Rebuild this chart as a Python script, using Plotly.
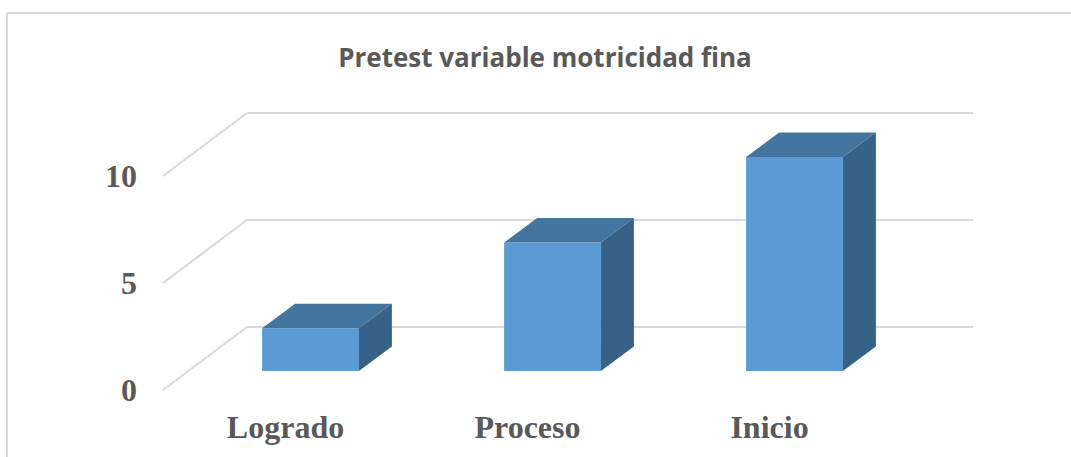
import plotly.graph_objects as go

categories = ["Logrado", "Proceso", "Inicio"]
values = [2, 6, 10]
axis_ticks = [0, 5, 10]
title_text = "Pretest variable motricidad fina"

W, H = 1071, 457
BOTTOM = 52
UX, UY = 242.0, 21.4      # pixels per data unit
X0, Y0 = 310.5, 371.0     # pixel of category 0 / value 0 on front plane
BAR_W = 0.4
DX, DY = 33 / UX, 24.5 / UY          # bar depth
FRONT_Y, BACK_Y = -19 / UY, 44 / UY  # gridline offsets from bar plane
GX0, GX1, GX2 = (163 - X0) / UX, (247 - X0) / UX, (973 - X0) / UX
LABEL_SHIFT = -25 / UX
GRID = "#D9D9D9"
TEXT = "#595959"
FRONT, TOP, SIDE = "#5B9BD5", "#44759F", "#376287"

positions = list(range(len(categories)))
fig = go.Figure()

fig.add_trace(go.Bar(x=positions, y=values, width=BAR_W,
                     marker=dict(color=FRONT, line=dict(width=0)), hoverinfo="skip"))

for p, v in zip(positions, values):
    l, r = p - BAR_W / 2, p + BAR_W / 2
    fig.add_trace(go.Scatter(x=[l, l + DX, r + DX, r, l], y=[v, v + DY, v + DY, v, v],
                             mode="lines", fill="toself", fillcolor=TOP,
                             line=dict(width=0), hoverinfo="skip"))
    fig.add_trace(go.Scatter(x=[r, r + DX, r + DX, r, r], y=[0, DY, v + DY, v, 0],
                             mode="lines", fill="toself", fillcolor=SIDE,
                             line=dict(width=0), hoverinfo="skip"))

shapes = []
for t in axis_ticks:
    for a, b, c, d in [(GX0, t + FRONT_Y, GX1, t + BACK_Y), (GX1, t + BACK_Y, GX2, t + BACK_Y)]:
        shapes.append(dict(type="line", xref="x", yref="y", x0=a, y0=b, x1=c, y1=d,
                           layer="below", line=dict(color=GRID, width=2)))

plot_h = H - BOTTOM
low = 1 - H / plot_h
bx, by = 7 / W, 1 - 13 / plot_h
shapes.append(dict(type="line", xref="paper", yref="paper", x0=bx, y0=by, x1=bx, y1=low,
                   line=dict(color=GRID, width=2)))
shapes.append(dict(type="line", xref="paper", yref="paper", x0=bx, y0=by, x1=1, y1=by,
                   line=dict(color=GRID, width=2)))

fig.update_layout(
    width=W, height=H, showlegend=False, hovermode=False, barmode="overlay",
    paper_bgcolor="white", plot_bgcolor="white",
    margin=dict(l=0, r=0, t=0, b=BOTTOM, pad=0),
    shapes=shapes,
    title=dict(text=f"<b>{title_text}</b>", x=545 / W, y=1 - 58 / H, xanchor="center", yanchor="middle",
               xref="container", yref="container",
               font=dict(family="Open Sans", size=26, color=TEXT)),
    xaxis=dict(range=[-X0 / UX, (W - X0) / UX], tickmode="array",
               tickvals=[p + LABEL_SHIFT for p in positions], ticktext=[f"<b>{c}</b>" for c in categories],
               tickfont=dict(family="Liberation Serif", size=32, color=TEXT),
               showgrid=False, zeroline=False, showline=False, ticks=""),
    yaxis=dict(range=[(Y0 - plot_h) / UY, Y0 / UY], tickmode="array",
               tickvals=[t + FRONT_Y for t in axis_ticks], ticktext=[f"<b>{t}</b>" for t in axis_ticks],
               tickfont=dict(family="Liberation Serif", size=32, color=TEXT),
               anchor="free", position=137 / W,
               showgrid=False, zeroline=False, showline=False, ticks=""),
)
fig.write_html("out.html", config=dict(displayModeBar=False),
               post_script="document.body.style.margin='0';document.body.style.overflow='hidden';")
